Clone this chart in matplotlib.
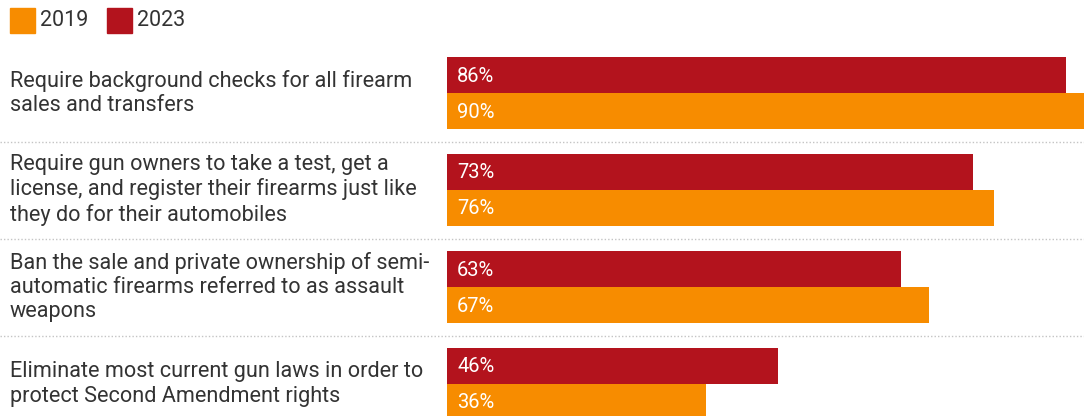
import matplotlib
matplotlib.use("Agg")
import matplotlib.pyplot as plt
from matplotlib.patches import Rectangle

# Survey questions and support shares (percent)
questions = [
    "Require background checks for all firearm\nsales and transfers",
    "Require gun owners to take a test, get a\nlicense, and register their firearms just like\nthey do for their automobiles",
    "Ban the sale and private ownership of semi-\nautomatic firearms referred to as assault\nweapons",
    "Eliminate most current gun laws in order to\nprotect Second Amendment rights",
]
support_2023 = [86, 73, 63, 46]
support_2019 = [90, 76, 67, 36]
years = ["2019", "2023"]

ORANGE = "#F78C00"
RED = "#B3131D"
TEXT = "#333333"

W, H = 1084, 416
fig = plt.figure(figsize=(W / 100, H / 100), dpi=100)

# base layer in pixel units for labels, legend and separators
base = fig.add_axes([0, 0, 1, 1])
base.set_xlim(0, W)
base.set_ylim(H, 0)
base.axis("off")

# bar panel
x0 = 447
px_per_pct = 7.2
ax = fig.add_axes([x0 / W, 0, (W - x0) / W, 1])
ax.set_xlim(0, (W - x0) / px_per_pct)
ax.set_ylim(H, 0)
ax.axis("off")

first_top = 57
pitch = 97
bar_h = 36
font = "Roboto"

for i, q in enumerate(questions):
    top = first_top + i * pitch
    ax.barh(top + bar_h / 2, support_2023[i], height=bar_h, left=0,
            color=RED, align="center")
    ax.barh(top + bar_h * 1.5, support_2019[i], height=bar_h, left=0,
            color=ORANGE, align="center")
    ax.text(1.4, top + bar_h / 2 + 1, f"{support_2023[i]}%", color="white",
            fontsize=14.5, va="center", ha="left", family=font)
    ax.text(1.4, top + bar_h * 1.5 + 1, f"{support_2019[i]}%", color="white",
            fontsize=14.5, va="center", ha="left", family=font)
    base.text(10, top + bar_h, q, color=TEXT, fontsize=15.6, va="center",
              ha="left", family=font, linespacing=1.2)
    if i < len(questions) - 1:
        sep = (top + 2 * bar_h + first_top + (i + 1) * pitch) / 2
        base.plot([0, W], [sep, sep], color="#c4c4c4", lw=1,
                  linestyle=(0, (1, 1.5)))

# legend
lx = 10
for name, col in zip(years, [ORANGE, RED]):
    base.add_patch(Rectangle((lx, 8), 25, 25, color=col))
    base.text(lx + 30, 20.5, name, color=TEXT, fontsize=15.5, va="center",
              ha="left", family=font)
    lx += 97

fig.savefig("out.png", dpi=100)
